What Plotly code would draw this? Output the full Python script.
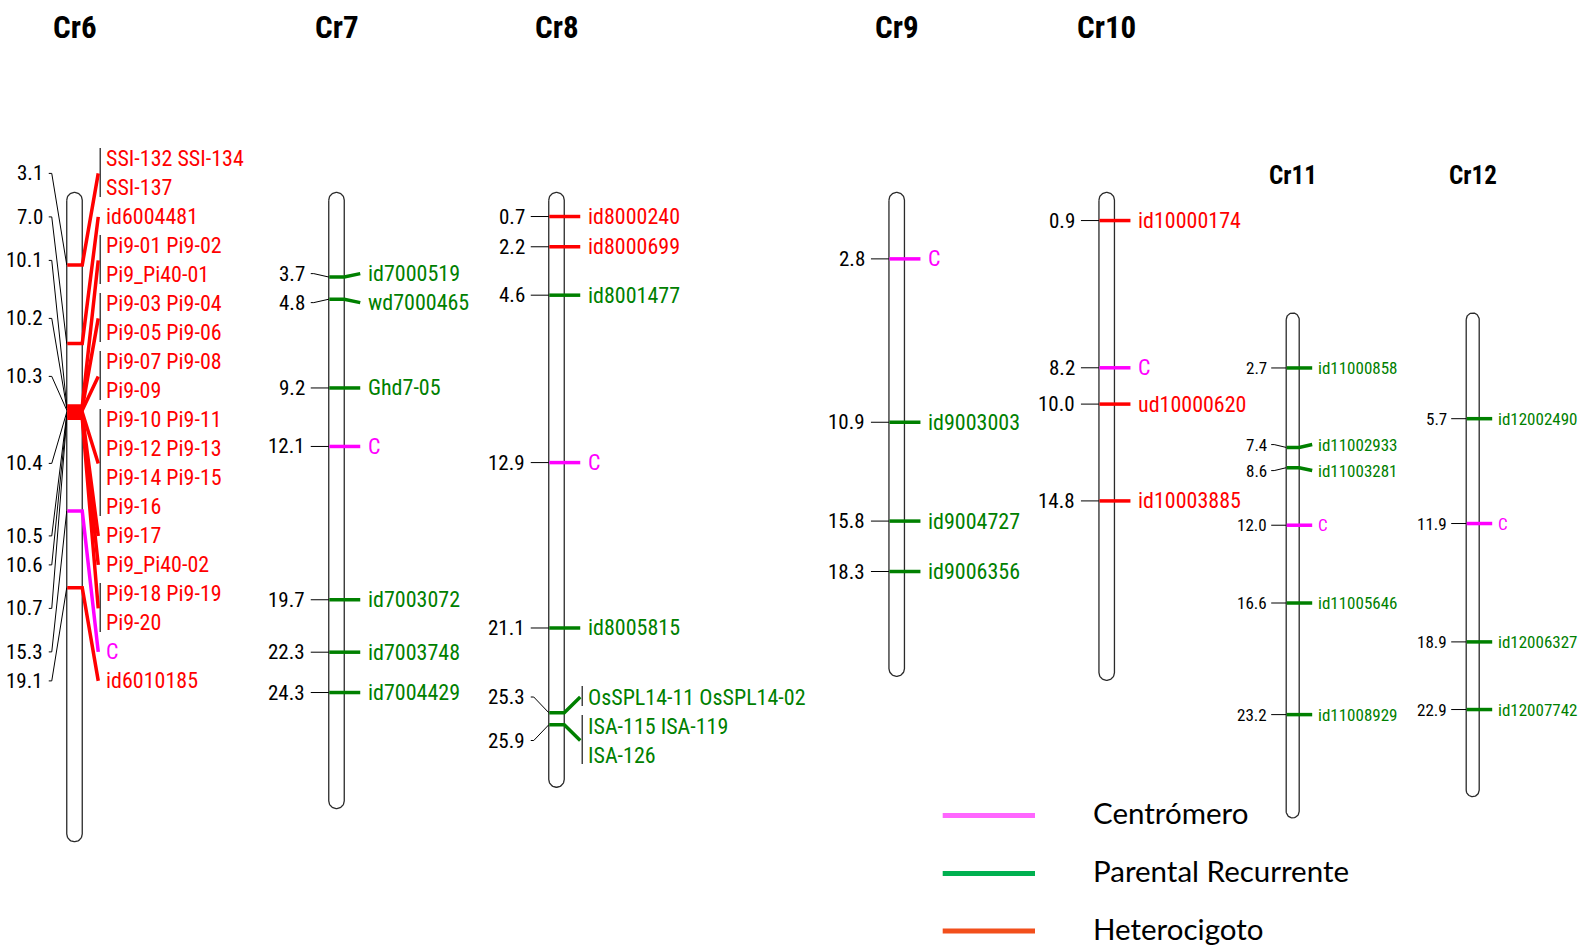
import numpy as np
import plotly.graph_objects as go

# ---------------- data ----------------
cr6_pos = [3.1, 7.0, 10.1, 10.2, 10.3, 10.4, 10.5, 10.6, 10.7, 15.3, 19.1]
cr6_markers = [["SSI-132", "SSI-134", "SSI-137"], ["id6004481"],
               ["Pi9-01", "Pi9-02", "Pi9_Pi40-01"], ["Pi9-03", "Pi9-04", "Pi9-05", "Pi9-06"],
               ["Pi9-07", "Pi9-08", "Pi9-09"],
               ["Pi9-10", "Pi9-11", "Pi9-12", "Pi9-13", "Pi9-14", "Pi9-15", "Pi9-16"],
               ["Pi9-17"], ["Pi9_Pi40-02"], ["Pi9-18", "Pi9-19", "Pi9-20"], ["C"], ["id6010185"]]
cr6_types = ["H", "H", "H", "H", "H", "H", "H", "H", "H", "C", "H"]
cr6_len = 31.2

cr7_pos = [3.7, 4.8, 9.2, 12.1, 19.7, 22.3, 24.3]
cr7_markers = [["id7000519"], ["wd7000465"], ["Ghd7-05"], ["C"], ["id7003072"], ["id7003748"], ["id7004429"]]
cr7_types = ["P", "P", "P", "C", "P", "P", "P"]
cr7_len = 29.56

cr8_pos = [0.7, 2.2, 4.6, 12.9, 21.1, 25.3, 25.9]
cr8_markers = [["id8000240"], ["id8000699"], ["id8001477"], ["C"], ["id8005815"],
               ["OsSPL14-11", "OsSPL14-02"], ["ISA-115", "ISA-119", "ISA-126"]]
cr8_types = ["H", "H", "P", "C", "P", "P", "P"]
cr8_len = 28.5

cr9_pos = [2.8, 10.9, 15.8, 18.3]
cr9_markers = [["C"], ["id9003003"], ["id9004727"], ["id9006356"]]
cr9_types = ["C", "P", "P", "P"]
cr9_len = 23.0

cr10_pos = [0.9, 8.2, 10.0, 14.8]
cr10_markers = [["id10000174"], ["C"], ["ud10000620"], ["id10003885"]]
cr10_types = ["H", "C", "H", "H"]
cr10_len = 23.2

cr11_pos = [2.7, 7.4, 8.6, 12.0, 16.6, 23.2]
cr11_markers = [["id11000858"], ["id11002933"], ["id11003281"], ["C"], ["id11005646"], ["id11008929"]]
cr11_types = ["P", "P", "P", "C", "P", "P"]
cr11_len = 28.76

cr12_pos = [5.7, 11.9, 18.9, 22.9]
cr12_markers = [["id12002490"], ["C"], ["id12006327"], ["id12007742"]]
cr12_types = ["P", "C", "P", "P"]
cr12_len = 27.5

legend_labels = ["Centrómero", "Parental Recurrente", "Heterocigoto"]

# ---------------- styles / layout ----------------
W, H = 1585, 948
MARK_COL = {"H": "#ff0000", "P": "#008000", "C": "#ff00ff"}
LEG_COL = ["#ff66ff", "#00b050", "#f24f1c"]
NARROW = "Liberation Sans Narrow, Arial Narrow, Roboto Condensed, DejaVu Sans Condensed, sans-serif"

STYLE = {
    "main": dict(axis="y", zero=202.4, scale=20.17, rh=29.0, font=22, nfont=21, tfont=31, ty=27.3,
                 w=15.5, pad=10.0, stub_out=18, stub_in=15, lab_l=22, line_r=16, brk=18, lab_r=22),
    "small": dict(axis="y2", zero=322.3, scale=16.91, rh=26.0, font=17, nfont=17, tfont=25, ty=175.0,
                  w=13.0, pad=9.3, stub_out=15, stub_in=12, lab_l=17, line_r=13, brk=15, lab_r=17),
}

chroms = [
    dict(name="Cr6", pos=cr6_pos, markers=cr6_markers, types=cr6_types, length=cr6_len, xc=74.5, st="main"),
    dict(name="Cr7", pos=cr7_pos, markers=cr7_markers, types=cr7_types, length=cr7_len, xc=336.5, st="main"),
    dict(name="Cr8", pos=cr8_pos, markers=cr8_markers, types=cr8_types, length=cr8_len, xc=556.5, st="main"),
    dict(name="Cr9", pos=cr9_pos, markers=cr9_markers, types=cr9_types, length=cr9_len, xc=896.7, st="main"),
    dict(name="Cr10", pos=cr10_pos, markers=cr10_markers, types=cr10_types, length=cr10_len, xc=1106.7, st="main"),
    dict(name="Cr11", pos=cr11_pos, markers=cr11_markers, types=cr11_types, length=cr11_len, xc=1292.7, st="small"),
    dict(name="Cr12", pos=cr12_pos, markers=cr12_markers, types=cr12_types, length=cr12_len, xc=1472.7, st="small"),
]


def rows_of(names):
    return [" ".join(names[i:i + 2]) for i in range(0, len(names), 2)]


def spread(pos, nrows, rh, top_limit):
    """Resolve label overlaps: clusters of touching labels, least-squares placement."""
    n = len(pos)
    h = [k * rh for k in nrows]
    clusters = [[i] for i in range(n)]

    def top_of(cl):
        offs, acc = [], 0.0
        for i in cl:
            offs.append(acc + h[i] / 2)
            acc += h[i]
        t = float(np.mean([pos[i] - o for i, o in zip(cl, offs)]))
        return max(t, top_limit), acc

    changed = True
    while changed:
        changed = False
        for k in range(len(clusters) - 1):
            t1, h1 = top_of(clusters[k])
            t2, _ = top_of(clusters[k + 1])
            if t1 + h1 > t2 + 1e-9:
                clusters[k] = clusters[k] + clusters.pop(k + 1)
                changed = True
                break
    tops = [None] * n
    for cl in clusters:
        t, _ = top_of(cl)
        acc = 0.0
        for i in cl:
            tops[i] = t + acc
            acc += h[i]
    return tops


fig = go.Figure()
annotations = []

for c in chroms:
    s = STYLE[c["st"]]
    ax = s["axis"]
    sc = s["scale"]
    rh = s["rh"] / sc
    pad = s["pad"] / sc
    xc = c["xc"]
    bl, br = xc - s["w"] / 2, xc + s["w"] / 2
    r = s["w"] / 2
    r_cm = r / sc

    # chromosome capsule
    yt = -pad + r_cm
    yb = c["length"] + pad - r_cm
    t1 = np.linspace(np.pi, 0, 30)
    t2 = np.linspace(0, np.pi, 30)
    cx = np.concatenate([xc + r * np.cos(t1), xc + r * np.cos(t2), [xc - r]])
    cy = np.concatenate([yt - r_cm * np.sin(t1), yb + r_cm * np.sin(t2), [yt]])
    fig.add_trace(go.Scatter(x=cx, y=cy, mode="lines", yaxis=ax, fill="toself", fillcolor="white",
                             line=dict(color="#2a2a2a", width=1.3), hoverinfo="skip"))

    # label placement
    rows = [rows_of(m) for m in c["markers"]]
    nrows = [len(rw) for rw in rows]
    tops = spread(c["pos"], nrows, rh, -2 * rh)
    centers = [t + n_ * rh / 2 for t, n_ in zip(tops, nrows)]

    # left connectors
    lx, ly = [], []
    for p, lc in zip(c["pos"], centers):
        lx += [bl - s["stub_out"], bl - s["stub_in"], bl, None]
        ly += [lc, lc, p, None]
    fig.add_trace(go.Scatter(x=lx, y=ly, mode="lines", yaxis=ax,
                             line=dict(color="black", width=1), hoverinfo="skip"))

    # brackets
    bx, by = [], []
    for t, n_, m in zip(tops, nrows, c["markers"]):
        if len(m) > 1:
            y0 = t + rh / 2 - 11 / sc
            y1 = t + (n_ - 0.5) * rh + 9 / sc
            bx += [br + s["brk"], br + s["brk"], None]
            by += [y0, y1, None]
    if bx:
        fig.add_trace(go.Scatter(x=bx, y=by, mode="lines", yaxis=ax,
                                 line=dict(color="#444444", width=1.5), hoverinfo="skip"))

    # marker lines (per type)
    for typ in ["P", "H", "C"]:
        mx, my = [], []
        for p, lc, tp in zip(c["pos"], centers, c["types"]):
            if tp == typ:
                mx += [bl + 0.5, br, br + s["line_r"], None]
                my += [p, p, lc, None]
        if mx:
            fig.add_trace(go.Scatter(x=mx, y=my, mode="lines", yaxis=ax,
                                     line=dict(color=MARK_COL[typ], width=3.5), hoverinfo="skip"))

    # texts
    for p, lc, t, rw, tp in zip(c["pos"], centers, tops, rows, c["types"]):
        annotations.append(dict(x=bl - s["lab_l"], y=lc, xref="x", yref=ax, text=f"{p:.1f}",
                                showarrow=False, xanchor="right", yanchor="middle",
                                font=dict(family=NARROW, size=s["nfont"], color="black")))
        for j, txt in enumerate(rw):
            annotations.append(dict(x=br + s["lab_r"], y=t + (j + 0.5) * rh, xref="x", yref=ax, text=txt,
                                    showarrow=False, xanchor="left", yanchor="middle",
                                    font=dict(family=NARROW, size=s["font"], color=MARK_COL[tp])))
    # title
    annotations.append(dict(x=xc, y=1 - s["ty"] / H, xref="x", yref="paper", text=f"<b>{c['name']}</b>",
                            showarrow=False, xanchor="center", yanchor="middle",
                            font=dict(family=NARROW, size=s["tfont"], color="black")))

# legend
shapes = []
leg_y = [815.5, 873.5, 931.0]
for lab, col, yy in zip(legend_labels, LEG_COL, leg_y):
    shapes.append(dict(type="line", xref="x", yref="paper", x0=942.7, x1=1035, y0=1 - yy / H, y1=1 - yy / H,
                       line=dict(color=col, width=5)))
    annotations.append(dict(x=1091, y=1 - (yy - 3) / H, xref="x", yref="paper", text=lab, showarrow=False,
                            xanchor="left", yanchor="middle",
                            font=dict(family="Lato, Carlito, Open Sans, sans-serif", size=29.5, color="black")))

m, sm = STYLE["main"], STYLE["small"]
fig.update_layout(
    width=W, height=H, margin=dict(l=0, r=0, t=0, b=0),
    paper_bgcolor="white", plot_bgcolor="white", showlegend=False,
    xaxis=dict(range=[0, W], visible=False, fixedrange=True),
    yaxis=dict(range=[(H - m["zero"]) / m["scale"], -m["zero"] / m["scale"]], visible=False, fixedrange=True),
    yaxis2=dict(range=[(H - sm["zero"]) / sm["scale"], -sm["zero"] / sm["scale"]], visible=False,
                overlaying="y", fixedrange=True),
    annotations=annotations, shapes=shapes,
)

fig.write_html("out.html", config={"displayModeBar": False},
               post_script="document.body.style.margin='0';document.body.style.overflow='hidden';")
